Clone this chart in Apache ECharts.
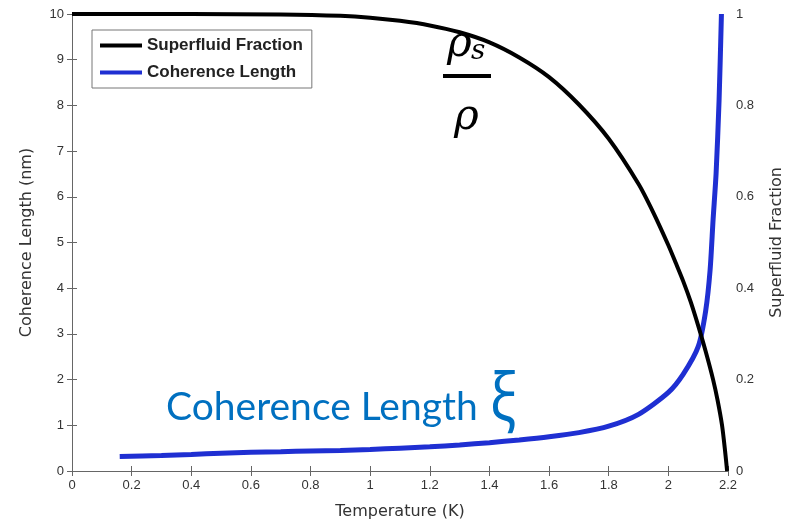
<!DOCTYPE html>
<html>
<head>
<meta charset="utf-8">
<script src="https://cdn.jsdelivr.net/npm/echarts@6/dist/echarts.min.js"></script>
<style>
  html, body { margin: 0; padding: 0; background: #fff; }
  #chart { width: 796px; height: 525px; }
</style>
</head>
<body>
<div id="chart"></div>
<script>
var chart = echarts.init(document.getElementById("chart"));

// superfluid fraction rho_s/rho (right axis) vs temperature (K)
var fracT = [0, 0.4, 0.7, 0.9, 1.0, 1.1, 1.2, 1.3, 1.4, 1.5, 1.6, 1.7, 1.8, 1.9, 1.95, 2.0, 2.025, 2.05, 2.075, 2.1, 2.125, 2.15, 2.165, 2.18, 2.19, 2.197];
var fracV = [1.0, 1.0, 0.999, 0.996, 0.992, 0.985, 0.975, 0.96, 0.938, 0.905, 0.862, 0.802, 0.727, 0.628, 0.565, 0.494, 0.455, 0.415, 0.37, 0.318, 0.262, 0.2, 0.155, 0.1, 0.045, 0.0];

// coherence length xi in nm (left axis) vs temperature (K)
var xiT = [0.16, 0.3, 0.4, 0.5, 0.6, 0.7, 0.8, 0.9, 1.0, 1.1, 1.2, 1.3, 1.4, 1.5, 1.6, 1.7, 1.8, 1.9, 2.0, 2.05, 2.1, 2.125, 2.14, 2.15, 2.16, 2.17, 2.178];
var xiV = [0.32, 0.34, 0.36, 0.39, 0.41, 0.42, 0.44, 0.45, 0.47, 0.50, 0.53, 0.57, 0.62, 0.68, 0.75, 0.84, 0.98, 1.24, 1.72, 2.12, 2.72, 3.5, 4.4, 5.5, 6.5, 8.1, 10];

var seriesNames = ["Superfluid Fraction", "Coherence Length"];

function pairs(xs, ys) {
    var out = [];
    for (var i = 0; i < xs.length; i++) {
        out.push([xs[i], ys[i]]);
    }
    return out;
}

var tickFont = { fontFamily: "Liberation Sans", fontSize: 13, color: "#333" };
var nameFont = { fontFamily: "DejaVu Sans", fontSize: 16, color: "#333" };
var axisLineStyle = { lineStyle: { color: "#666", width: 1 } };
var tickStyle = { show: true, inside: true, length: 5, lineStyle: { color: "#666" } };

option = {
    animation: false,
    backgroundColor: "#fff",
    grid: { left: 72, right: 68, top: 14, bottom: 53 },
    legend: {
        data: seriesNames,
        orient: "vertical",
        left: 92,
        top: 30,
        icon: "rect",
        itemWidth: 42,
        itemHeight: 4,
        itemGap: 10,
        padding: [7, 9, 7, 8],
        borderColor: "#777",
        borderWidth: 1,
        textStyle: { fontFamily: "Liberation Sans", fontSize: 17, fontWeight: "bold", color: "#222" }
    },
    xAxis: [{
        type: "value",
        min: 0,
        max: 2.2,
        interval: 0.2,
        name: "Temperature (K)",
        nameLocation: "middle",
        nameGap: 33,
        nameTextStyle: nameFont,
        axisLine: axisLineStyle,
        axisTick: tickStyle,
        axisLabel: tickFont,
        splitLine: { show: false }
    }, {
        type: "value",
        position: "top",
        min: 0,
        max: 2.2,
        interval: 0.2,
        axisLine: axisLineStyle,
        axisTick: tickStyle,
        axisLabel: { show: false },
        splitLine: { show: false }
    }],
    yAxis: [{
        type: "value",
        min: 0,
        max: 10,
        interval: 1,
        name: "Coherence Length (nm)",
        nameLocation: "middle",
        nameRotate: 90,
        nameGap: 37,
        nameTextStyle: nameFont,
        axisLine: { show: true, lineStyle: { color: "#666", width: 1 } },
        axisTick: tickStyle,
        axisLabel: tickFont,
        splitLine: { show: false }
    }, {
        type: "value",
        position: "right",
        min: 0,
        max: 1,
        interval: 0.1,
        name: "Superfluid Fraction",
        nameLocation: "middle",
        nameRotate: 90,
        nameGap: 41,
        nameTextStyle: nameFont,
        axisLine: { show: true, lineStyle: { color: "#666", width: 1 } },
        axisTick: tickStyle,
        axisLabel: {
            fontFamily: "Liberation Sans", fontSize: 13, color: "#333",
            formatter: function (v) {
                return Math.round(v * 10) % 2 === 0 ? String(Math.round(v * 10) / 10) : "";
            }
        },
        splitLine: { show: false }
    }],
    series: [{
        name: "Coherence Length",
        type: "line",
        xAxisIndex: 0,
        yAxisIndex: 0,
        showSymbol: false,
        smooth: 0.25,
        color: "#1f2fd2",
        lineStyle: { width: 5, color: "#1f2fd2" },
        data: pairs(xiT, xiV)
    }, {
        name: "Superfluid Fraction",
        type: "line",
        xAxisIndex: 0,
        yAxisIndex: 1,
        showSymbol: false,
        smooth: 0.25,
        color: "#000",
        lineStyle: { width: 4, color: "#000" },
        data: pairs(fracT, fracV)
    }],
    graphic: [{
        type: "text",
        left: 447,
        top: 24,
        style: { text: "\u03C1", font: "italic 42px 'DejaVu Serif'", fill: "#000" }
    }, {
        type: "text",
        left: 471,
        top: 38,
        style: { text: "s", font: "italic 28px 'DejaVu Serif'", fill: "#000" }
    }, {
        type: "rect",
        shape: { x: 443, y: 74, width: 48, height: 4 },
        style: { fill: "#000" }
    }, {
        type: "text",
        left: 454,
        top: 97,
        style: { text: "\u03C1", font: "italic 42px 'DejaVu Serif'", fill: "#000" }
    }, {
        type: "text",
        left: 166,
        top: 388,
        style: { text: "Coherence Length", font: "39px Lato", fill: "#0070c0" }
    }, {
        type: "text",
        x: 490,
        y: 368,
        scaleX: 0.82,
        style: { text: "\u03BE", font: "66px 'Noto Sans'", fill: "#0070c0" }
    }]
};
chart.setOption(option);
</script>
</body>
</html>
